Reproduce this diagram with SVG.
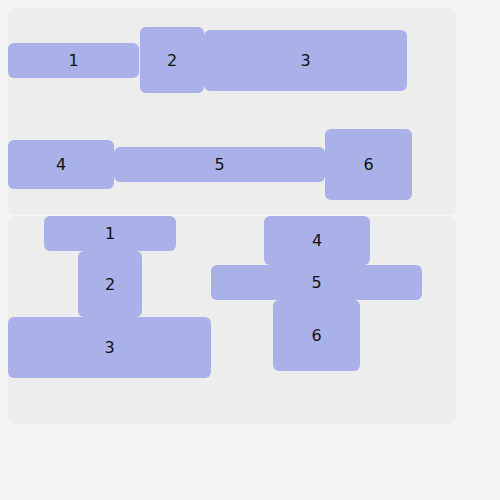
<svg xmlns="http://www.w3.org/2000/svg" width="500" height="500" viewBox="0 0 500 500">
<style>
.panel{fill:#ededed}
.n rect{fill:#aab1e8}
.n text{font-family:"DejaVu Sans",sans-serif;font-size:16px;fill:#111;text-anchor:middle;dominant-baseline:central}
</style>
<rect width="500" height="500" fill="#f5f5f5"/>
<g id="panels">
<rect class="panel" x="8" y="8" width="448" height="207" rx="6"/>
<rect class="panel" x="8" y="216" width="448" height="208" rx="6"/>
</g>
<g id="connectors"></g>
<g id="a1" class="n"><rect x="8" y="43" width="131" height="35" rx="6"/><text x="73.5" y="60.5">1</text></g>
<g id="a2" class="n"><rect x="140" y="27" width="64" height="66" rx="6"/><text x="172" y="60.5">2</text></g>
<g id="a3" class="n"><rect x="204" y="30" width="203" height="61" rx="6"/><text x="305.5" y="60.5">3</text></g>
<g id="a4" class="n"><rect x="8" y="140" width="106" height="49" rx="6"/><text x="61" y="164.5">4</text></g>
<g id="a5" class="n"><rect x="114" y="147" width="211" height="35" rx="6"/><text x="219.5" y="164.5">5</text></g>
<g id="a6" class="n"><rect x="325" y="129" width="87" height="71" rx="6"/><text x="368.5" y="164.5">6</text></g>
<g id="b1" class="n"><rect x="44" y="216" width="132" height="35" rx="6"/><text x="110" y="233.5">1</text></g>
<g id="b2" class="n"><rect x="78" y="251" width="64" height="66" rx="6"/><text x="110" y="284">2</text></g>
<g id="b3" class="n"><rect x="8" y="317" width="203" height="61" rx="6"/><text x="109.5" y="347.5">3</text></g>
<g id="b4" class="n"><rect x="264" y="216" width="106" height="49" rx="6"/><text x="317" y="240.5">4</text></g>
<g id="b5" class="n"><rect x="211" y="265" width="211" height="35" rx="6"/><text x="316.5" y="282.5">5</text></g>
<g id="b6" class="n"><rect x="273" y="300" width="87" height="71" rx="6"/><text x="316.5" y="335.5">6</text></g>
</svg>
